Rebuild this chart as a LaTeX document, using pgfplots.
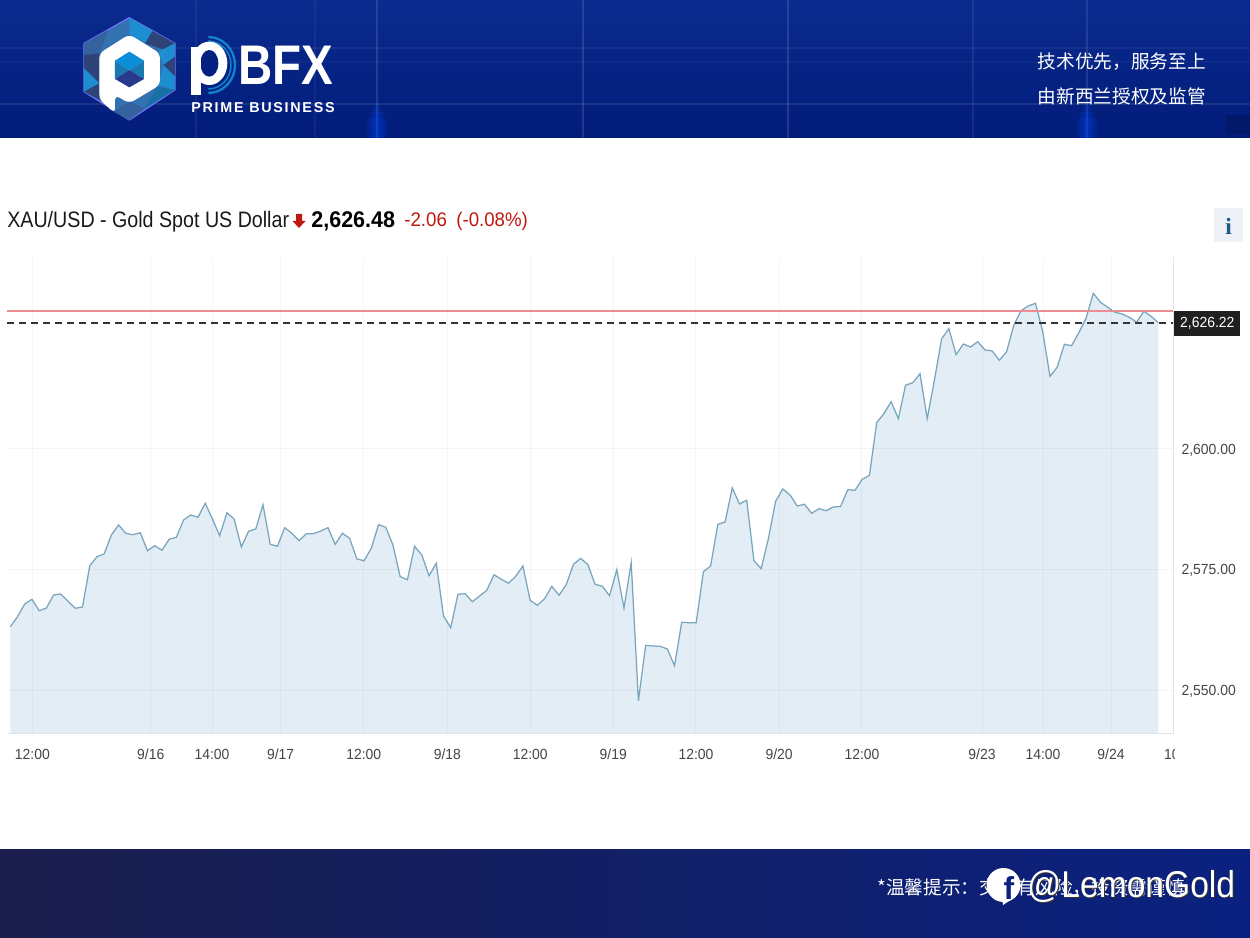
\documentclass[border=0pt]{standalone}
\usepackage{pgfplots}
\usepackage{pgfplotstable}
\usepackage{fontspec}
\pgfplotsset{compat=1.18}
\setmainfont{Liberation Sans}
\newfontfamily\cjk{Noto Sans CJK SC}
\newfontfamily\serifb{Liberation Serif}
\newfontfamily\ticksf[FakeStretch=0.95]{Liberation Sans}
\newfontfamily\titlesf[FakeStretch=0.88]{Liberation Sans}
\newfontfamily\marksf[FakeStretch=0.9]{Liberation Sans}
\newfontfamily\bfxsf[FakeStretch=0.85]{Liberation Sans}
\definecolor{topa}{HTML}{0A2B8E}
\definecolor{topb}{HTML}{021C7A}
\definecolor{botl}{HTML}{1B1E4C}
\definecolor{botr}{HTML}{0A2180}
\definecolor{areafill}{HTML}{E3EDF5}
\definecolor{lineblue}{HTML}{7AA5BE}
\definecolor{redtxt}{HTML}{C0170F}
\definecolor{ticktxt}{HTML}{454545}
\definecolor{axgrey}{HTML}{E2E4E9}
\definecolor{refline}{HTML}{EE8C93}
\definecolor{infoblue}{HTML}{1F5A8C}
\definecolor{infobox}{HTML}{EEF1F5}
\definecolor{faca}{HTML}{3372B0}
\definecolor{facb}{HTML}{1D8ED0}
\definecolor{facc}{HTML}{2E4478}
\definecolor{facd}{HTML}{35619F}
\pgfplotstableread{
i p
0 2563.13
1 2565.21
2 2567.84
3 2568.82
4 2566.45
5 2567.01
6 2569.71
7 2569.92
8 2568.40
9 2566.95
10 2567.22
11 2575.73
12 2577.66
13 2578.22
14 2582.16
15 2584.23
16 2582.51
17 2582.22
18 2582.63
19 2578.90
20 2579.94
21 2578.98
22 2581.27
23 2581.68
24 2585.27
25 2586.31
26 2585.83
27 2588.73
28 2585.48
29 2582.01
30 2586.78
31 2585.48
32 2579.67
33 2582.93
34 2583.40
35 2588.44
36 2580.23
37 2579.81
38 2583.67
39 2582.51
40 2580.98
41 2582.43
42 2582.43
43 2582.99
44 2583.67
45 2580.23
46 2582.51
47 2581.47
48 2577.18
49 2576.83
50 2579.40
51 2584.29
52 2583.76
53 2580.08
54 2573.51
55 2572.88
56 2579.81
57 2578.01
58 2573.71
59 2576.29
60 2565.41
61 2562.93
62 2569.85
63 2569.98
64 2568.32
65 2569.50
66 2570.68
67 2573.92
68 2572.97
69 2572.14
70 2573.59
71 2575.73
72 2568.61
73 2567.57
74 2568.94
75 2571.51
76 2569.65
77 2571.85
78 2576.08
79 2577.32
80 2576.00
81 2571.93
82 2571.51
83 2569.56
84 2574.96
85 2567.01
86 2576.41
87 2547.78
88 2559.27
89 2559.13
90 2559.07
91 2558.51
92 2555.04
93 2564.05
94 2563.96
95 2563.96
96 2574.54
97 2575.73
98 2584.38
99 2584.85
100 2591.91
101 2588.59
102 2589.36
103 2576.83
104 2575.17
105 2581.39
106 2589.15
107 2591.70
108 2590.46
109 2588.17
110 2588.53
111 2586.66
112 2587.61
113 2587.20
114 2587.97
115 2588.07
116 2591.56
117 2591.43
118 2593.71
119 2594.54
120 2605.46
121 2607.32
122 2609.81
123 2606.29
124 2613.22
125 2613.76
126 2615.62
127 2606.29
128 2614.32
129 2622.88
130 2624.96
131 2619.56
132 2621.78
133 2621.16
134 2622.26
135 2620.54
136 2620.33
137 2618.40
138 2620.19
139 2625.73
140 2628.69
141 2629.67
142 2630.23
143 2624.34
144 2615.08
145 2616.95
146 2621.72
147 2621.43
148 2624.13
149 2627.12
150 2632.30
151 2630.44
152 2629.40
153 2628.36
154 2628.01
155 2627.32
156 2626.29
157 2628.57
158 2627.53
159 2626.22
}\gold
\begin{document}
\begin{tikzpicture}[x=0.6pt,y=-0.6pt]
\useasboundingbox (0,0) rectangle (1250,938);
\clip (0,0) rectangle (1250,938);
\fill[white] (0,0) rectangle (1250,938);
% top banner
\shade[top color=topa,bottom color=topb] (0,0) rectangle (1250,138);
\foreach \xx/\op in {196/0.06,315/0.05,377/0.12,583/0.12,788/0.12,973/0.08,1087/0.10}
  \fill[white,opacity=\op] (\xx-1,0) rectangle (\xx+1,138);
\foreach \yy/\op in {48/0.05,62/0.03,104/0.09}
  \fill[white,opacity=\op] (0,\yy-1) rectangle (1250,\yy+1);
\foreach \xx in {377,1087} \foreach \w/\t in {2/100,4/106,7/112,10/118}
  \fill[blue!70!cyan,opacity=0.14] (\xx-\w,\t) rectangle (\xx+\w,138);
\fill[topb!85!black] (1226,115) rectangle (1250,134);
% logo, in a 3x grid from (70,5)
\begin{scope}[shift={(70,5)},x=0.2pt,y=-0.2pt]
\fill[faca] (178,38)--(315,115)--(315,255)--(178,345)--(42,260)--(42,115)--cycle;
\draw[white!45!blue,line width=0.7pt,line join=round] (178,38)--(315,115)--(315,255)--(178,345)--(42,260)--(42,115)--cycle;
\fill[facb] (178,38)--(248,78)--(225,115)--(178,88)--cycle;
\fill[facc] (248,78)--(315,115)--(285,135)--(225,115)--cycle;
\fill[facb] (315,115)--(315,160)--(280,180)--(265,140)--cycle;
\fill[facc] (280,180)--(315,155)--(315,215)--cycle;
\fill[facb] (265,240)--(315,255)--(315,215)--(280,180)--cycle;
\fill[facb!80!black] (315,255)--(225,310)--(260,245)--cycle;
\fill[facd] (178,345)--(225,310)--(178,290)--(130,320)--cycle;
\fill[facd] (42,115)--(115,75)--(88,145)--(42,190)--cycle;
\fill[facc] (42,150)--(88,145)--(88,235)--(42,190)--cycle;
\fill[facb] (42,190)--(88,235)--(42,260)--cycle;
\fill[facc] (42,260)--(88,235)--(88,285)--cycle;
\fill[white,rounded corners=3.2pt] (178,88)--(270,145)--(270,240)--(178,295)--(135,270)--(135,325)--(88,283)--(88,145)--cycle;
\fill[cyan!75!blue] (178,140)--(222,167)--(178,195)--(135,167)--cycle;
\fill[facb!85!black] (135,167)--(178,195)--(135,222)--cycle;
\fill[facb!85!black] (222,167)--(178,195)--(222,222)--cycle;
\fill[facc!85!blue] (135,222)--(178,195)--(222,222)--(178,247)--cycle;
% wordmark p
\draw[cyan!65!blue,line width=1.4pt] (415,264) arc[start angle=90,end angle=-90,x radius=80,y radius=84];
\draw[cyan!65!blue,line width=0.9pt] (415,252) arc[start angle=90,end angle=-90,x radius=68,y radius=72];
\fill[white] (418,175) ellipse[x radius=54,y radius=65];
\fill[topb!70!topa] (418,175) ellipse[x radius=27,y radius=40];
\fill[white] (362,125) rectangle (392,270);
\end{scope}
\node[anchor=base west,inner sep=0,text=white,font=\bfxsf\bfseries\fontsize{33.5}{34}\selectfont] at (238,85) {BFX};
\node[anchor=base west,inner sep=0,text=white,font=\fontsize{8.6}{10}\selectfont\bfseries] at (191,113) {\addfontfeature{LetterSpace=12}PRIME BUSINESS};
\node[anchor=base east,inner sep=0,text=white,font=\cjk\fontsize{11.2}{12}\selectfont] at (1206,69) {技术优先，服务至上};
\node[anchor=base east,inner sep=0,text=white,font=\cjk\fontsize{11.2}{12}\selectfont] at (1206,104) {由新西兰授权及监管};
% bottom banner
\shade[left color=botl,right color=botr] (0,849) rectangle (1250,938);
\node[anchor=base west,inner sep=0,text=white,font=\cjk\fontsize{11.2}{12}\selectfont] at (877,894) {*温馨提示：交易有风险，投资需谨慎};
\fill[white] (1003.5,885) circle[radius=17];
\fill[white] (1002,897)--(1012,899)--(1003,905)--cycle;
\node[text=botr,font=\fontsize{19}{19}\selectfont\bfseries,inner sep=0] at (1009,888) {f};
\node[anchor=base west,inner sep=0,text=black!80,font=\marksf\fontsize{22.4}{24}\selectfont] at (1028,898.3) {@LemonGold};
\node[anchor=base west,inner sep=0,text=white,font=\marksf\fontsize{22.4}{24}\selectfont] at (1027,897) {@LemonGold};
% title
\node[anchor=base west,inner sep=0,text=black!90,font=\titlesf\fontsize{13.4}{14}\selectfont] at (7,228) {XAU/USD - Gold Spot US Dollar};
\fill[redtxt] (296,214) -- (302,214) -- (302,221)--(305.5,221)--(299,228)--(292.5,221)--(296,221)--cycle;
\node[anchor=base west,inner sep=0,text=black,font=\ticksf\bfseries\fontsize{13.6}{14}\selectfont] at (311,228) {2,626.48};
\node[anchor=base west,inner sep=0,text=redtxt,font=\ticksf\fontsize{11.8}{14}\selectfont] at (404,227) {-2.06};
\node[anchor=base west,inner sep=0,text=redtxt,font=\ticksf\fontsize{11.8}{14}\selectfont] at (456,227) {(-0.08\%)};
\fill[infobox] (1214,208) rectangle (1243,242);
\node[text=infoblue,font=\serifb\bfseries\fontsize{14}{14}\selectfont,inner sep=0] at (1228.5,226) {i};
\coordinate (axpos) at (7,733);
\begin{axis}[
  at={(axpos)},anchor=south west,
  scale only axis,width=700.2pt,height=285.6pt,
  xmin=-0.457,xmax=161.18,ymin=2541.08,ymax=2639.83,
  axis on top,clip mode=individual,
  axis x line*=bottom,axis y line*=right,
  axis line style={-,draw=axgrey,line width=0.6pt},
  xtick={3.05,19.45,27.94,37.45,48.95,60.53,72.02,83.52,94.97,106.48,117.96,134.59,143.04,152.46},
  xticklabels={12:00,9/16,14:00,9/17,12:00,9/18,12:00,9/19,12:00,9/20,12:00,9/23,14:00,9/24},
  extra x ticks={160.9},extra x tick labels={10},
  extra x tick style={grid=none,major tick length=0pt},
  ytick={2550,2575,2600},
  grid=major,
  major grid style={black,opacity=0.04,line width=0.6pt},
  tick style={draw=axgrey,line width=0.6pt},
  major tick length=3pt,
  ytick style={draw=none},
  tick label style={font=\ticksf\fontsize{8.8}{10}\selectfont,text=ticktxt},
  x tick label style={yshift=-6pt},
  y tick label style={anchor=west,xshift=1pt,yshift=-0.5pt},
  yticklabel style={/pgf/number format/.cd,fixed,fixed zerofill,precision=2,1000 sep={,},assume math mode=true},
]
\addplot[draw=none,fill=areafill] table[x=i,y=p] {\gold} \closedcycle;
\addplot[draw=lineblue,line width=0.75pt] table[x=i,y=p] {\gold};
\addplot[color=refline,solid,line width=0.8pt,mark=none] table[x=i,y=p] {
i p
-0.457 2628.60
161.18 2628.60
};
\addplot[draw=black!80,line width=1.1pt,dash pattern=on 4.2pt off 3pt] coordinates {(-0.457,2626.22) (161.18,2626.22)};
\node[anchor=west,fill=black!88,text=white,font=\ticksf\fontsize{8.8}{10}\selectfont,inner sep=0pt,minimum width=39.6pt,minimum height=14.6pt,yshift=-0.5pt] at (axis cs:161.18,2626.22) {\raisebox{-1pt}{2,626.22}};
\end{axis}
\fill[white] (1175,740) rectangle (1190,765);
\end{tikzpicture}
\end{document}
